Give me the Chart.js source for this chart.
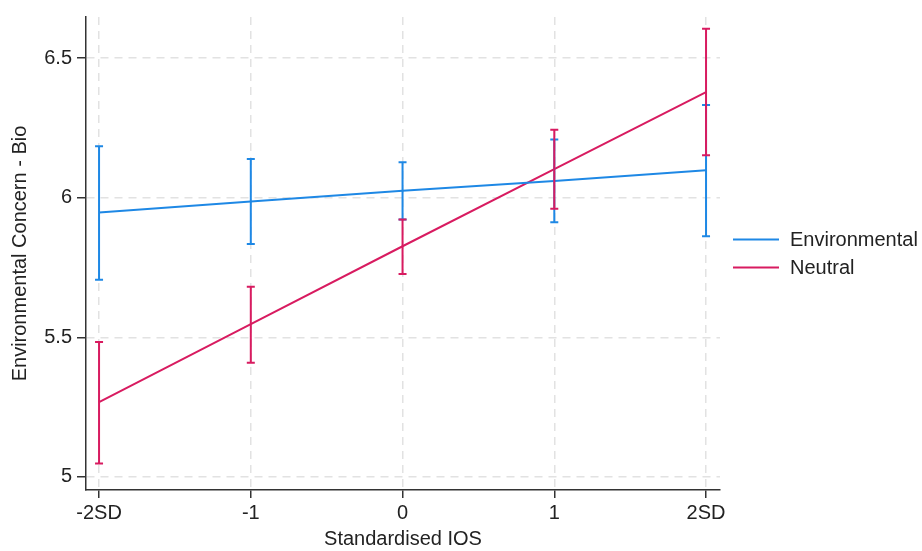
<!DOCTYPE html>
<html>
<head>
<meta charset="utf-8">
<script src="https://cdn.jsdelivr.net/npm/chart.js@4/dist/chart.umd.min.js"></script>
<style>
  body { margin: 0; background: #fff; }
  #wrap { width: 922px; height: 551px; position: relative; }
</style>
</head>
<body>
<div id="wrap"><canvas id="c"></canvas></div>
<script>
// x categories (IOS, standardised)
const categories = ['-2SD', '-1', '0', '1', '2SD']
const xValues = [-2, -1, 0, 1, 2]
const yTicks = [5, 5.5, 6, 6.5]

// Environmental condition: predicted mean and CI
const envMean = [5.947, 5.986, 6.025, 6.060, 6.098]
const envLow = [5.706, 5.834, 5.922, 5.912, 5.862]
const envHigh = [6.184, 6.138, 6.127, 6.208, 6.332]

// Neutral condition
const neuMean = [5.268, 5.547, 5.826, 6.102, 6.378]
const neuLow = [5.048, 5.409, 5.727, 5.960, 6.152]
const neuHigh = [5.483, 5.681, 5.922, 6.243, 6.605]

const BLUE = '#1E88E5'
const RED = '#D81B60'
const FONT = "'Liberation Sans', Arial, sans-serif"
const FS = 20

const pts = (arr) => arr.map((v, i) => ({ x: xValues[i], y: v }))

// error bars + legend drawn on top of the chart
const errorBars = {
    id: 'errorBars',
    afterDatasetsDraw(chart) {
        const ctx = chart.ctx
        const xs = chart.scales.x
        const ys = chart.scales.y
        chart.data.datasets.forEach((ds) => {
            ctx.save()
            ctx.strokeStyle = ds.borderColor
            ctx.lineWidth = 2
            ds.low.forEach((lo, i) => {
                const px = xs.getPixelForValue(xValues[i])
                const pTop = ys.getPixelForValue(ds.high[i])
                const pBot = ys.getPixelForValue(lo)
                ctx.beginPath()
                ctx.moveTo(px, pTop)
                ctx.lineTo(px, pBot)
                ctx.moveTo(px - 4, pTop)
                ctx.lineTo(px + 4, pTop)
                ctx.moveTo(px - 4, pBot)
                ctx.lineTo(px + 4, pBot)
                ctx.stroke()
            })
            ctx.restore()
        })
    },
    afterDraw(chart) {
        const ctx = chart.ctx
        const x0 = chart.chartArea.right + 13
        const mid = (chart.chartArea.top + chart.chartArea.bottom) / 2
        ctx.save()
        ctx.font = FS + 'px ' + FONT
        ctx.textBaseline = 'middle'
        ctx.fillStyle = '#222'
        chart.data.datasets.forEach((ds, i) => {
            const y = mid - 14 + i * 28
            ctx.strokeStyle = ds.borderColor
            ctx.lineWidth = 2
            ctx.beginPath()
            ctx.moveTo(x0, y)
            ctx.lineTo(x0 + 46, y)
            ctx.stroke()
            ctx.fillText(ds.label, x0 + 57, y + 1)
        })
        ctx.restore()
    }
}

new Chart(document.getElementById('c'), {
    type: 'line',
    data: {
        datasets: [{
            label: 'Environmental',
            data: pts(envMean),
            low: envLow,
            high: envHigh,
            borderColor: BLUE,
            backgroundColor: BLUE,
            borderWidth: 2,
            pointRadius: 0,
            tension: 0
        }, {
            label: 'Neutral',
            data: pts(neuMean),
            low: neuLow,
            high: neuHigh,
            borderColor: RED,
            backgroundColor: RED,
            borderWidth: 2,
            pointRadius: 0,
            tension: 0
        }]
    },
    options: {
        responsive: true,
        maintainAspectRatio: false,
        animation: false,
        layout: { padding: { top: 11, right: 202, left: 0, bottom: 0 } },
        plugins: {
            legend: { display: false },
            tooltip: { enabled: false }
        },
        scales: {
            x: {
                type: 'linear',
                min: -2.086,
                max: 2.092,
                afterBuildTicks: (scale) => { scale.ticks = xValues.map(v => ({ value: v })) },
                afterFit: (scale) => { scale.height = 61 },
                ticks: {
                    autoSkip: false,
                    maxRotation: 0,
                    padding: 3,
                    color: '#222',
                    font: { family: FONT, size: FS },
                    callback: (v) => categories[xValues.indexOf(v)]
                },
                grid: {
                    color: '#e2e2e2',
                    lineWidth: 1.5,
                    tickLength: 8,
                    tickColor: '#333',
                    tickWidth: 1.5
                },
                border: { display: true, color: '#333', width: 1.5, dash: [8, 6] },
                title: {
                    display: true,
                    text: 'Standardised IOS',
                    color: '#222',
                    font: { family: FONT, size: FS },
                    padding: { top: 0, bottom: 0 }
                }
            },
            y: {
                min: 4.953,
                max: 6.647,
                afterBuildTicks: (scale) => { scale.ticks = yTicks.map(v => ({ value: v })) },
                afterFit: (scale) => { scale.width = 86 },
                ticks: {
                    padding: 5,
                    color: '#222',
                    font: { family: FONT, size: FS },
                    callback: (v) => String(v)
                },
                grid: {
                    color: '#e2e2e2',
                    lineWidth: 1.5,
                    tickLength: 9,
                    tickColor: '#333',
                    tickWidth: 1.5
                },
                border: { display: true, color: '#333', width: 1.5, dash: [8, 6] },
                title: {
                    display: true,
                    text: 'Environmental Concern - Bio',
                    color: '#222',
                    font: { family: FONT, size: FS },
                    padding: { top: 8, bottom: 0 }
                }
            }
        }
    },
    plugins: [errorBars]
})
</script>
</body>
</html>
